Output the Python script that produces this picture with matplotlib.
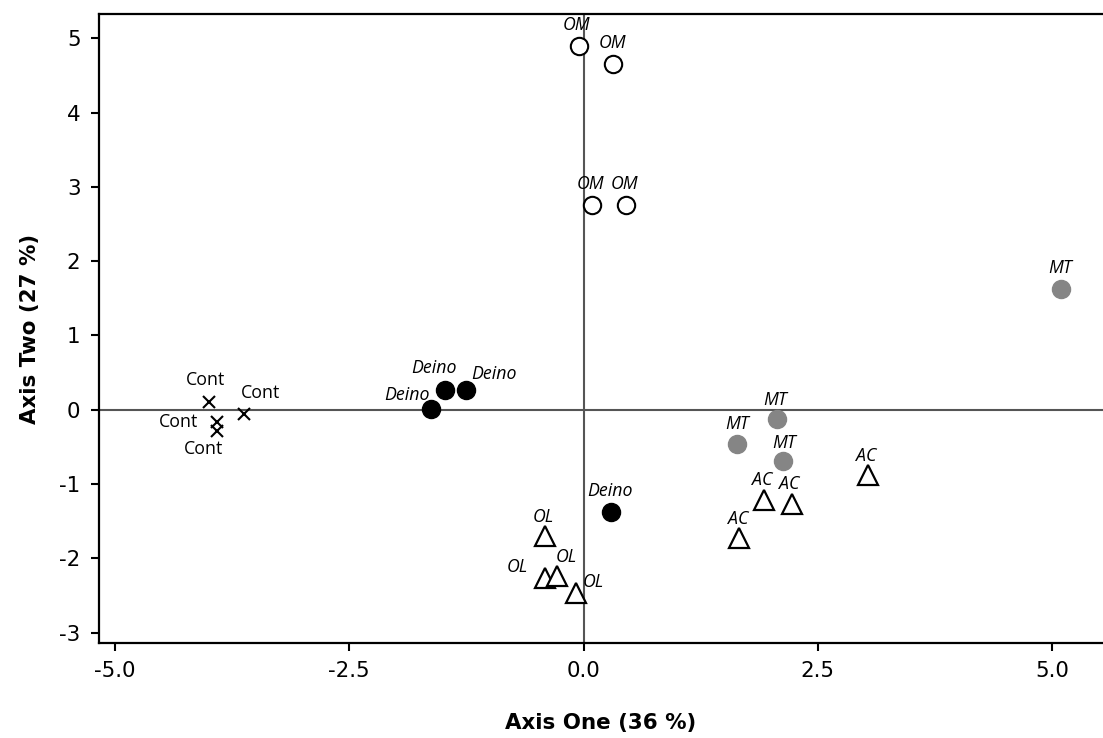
import matplotlib
matplotlib.use("Agg")
import matplotlib.pyplot as plt

plt.rcParams['font.family'] = ['DejaVu Sans']
plt.rcParams['axes.unicode_minus'] = False

# ---- data ----
cont_x = [-4.00, -3.91, -3.91, -3.62]
cont_y = [0.11, -0.17, -0.29, -0.06]
deino_x = [-1.63, -1.48, -1.25, 0.29]
deino_y = [0.01, 0.27, 0.27, -1.37]
om_x = [-0.05, 0.31, 0.09, 0.45]
om_y = [4.90, 4.65, 2.75, 2.75]
mt_x = [2.07, 1.64, 2.13, 5.10]
mt_y = [-0.13, -0.46, -0.69, 1.63]
ol_x = [-0.41, -0.41, -0.28, -0.08]
ol_y = [-1.70, -2.27, -2.24, -2.47]
ac_x = [1.93, 2.22, 1.66, 3.04]
ac_y = [-1.22, -1.27, -1.72, -0.88]

x_ticks = [-5.0, -2.5, 0.0, 2.5, 5.0]
x_ticklabels = ['-5.0', '-2.5', '0.0', '2.5', '5.0']
y_ticks = [-3, -2, -1, 0, 1, 2, 3, 4, 5]

# label offsets in pixels (dx, dy)
cont_off = [(-3, 22), (-39, 0), (-14, -18), (16, 21)]
deino_off = [(-24, 14), (-11, 22), (28, 16), (-1, 21)]
om_off = [(-2, 21), (0, 21), (-1, 21), (-1, 21)]
mt_off = [(-2, 19), (0, 20), (1, 18), (-1, 21)]
ol_off = [(-2, 19), (-28, 11), (9, 19), (17, 11)]
ac_off = [(-2, 20), (-2, 20), (-1, 19), (-2, 19)]

fig = plt.figure(figsize=(11.03, 7.38), dpi=100)
ax = fig.add_axes([98.5 / 1103, 1 - 643.3 / 738, 1 - 98.5 / 1103, (643.3 - 14) / 738])

x0, xpx = 583.5, 93.7
y0, ypx = 409.8, 74.3
ax.set_xlim((98.5 - x0) / xpx, (1103 - x0) / xpx)
ax.set_ylim(-(643.3 - y0) / ypx, (y0 - 14) / ypx)

ax.axhline(0, color='#555555', lw=1.5, zorder=1)
ax.axvline(0, color='#555555', lw=1.5, zorder=1)

ax.plot(cont_x, cont_y, 'x', color='black', ms=9, mew=1.5, ls='none', zorder=3)
ax.plot(deino_x, deino_y, 'o', color='black', ms=13, ls='none', zorder=3)
ax.plot(om_x, om_y, 'o', mfc='white', mec='black', ms=12.5, mew=1.5, ls='none', zorder=3)
ax.plot(mt_x, mt_y, 'o', color='#858585', ms=13, ls='none', zorder=3)
ax.plot(ol_x, ol_y, '^', mfc='white', mec='black', ms=14.5, mew=1.6, ls='none', zorder=3)
ax.plot(ac_x, ac_y, '^', mfc='white', mec='black', ms=14.5, mew=1.6, ls='none', zorder=3)

def label(xs, ys, offs, text, italic=True):
    for x, y, (dx, dy) in zip(xs, ys, offs):
        ax.annotate(text, (x, y), xytext=(dx, dy), textcoords='offset pixels',
                    ha='center', va='center', fontsize=12.8,
                    family=['Open Sans', 'DejaVu Sans'],
                    style='italic' if italic else 'normal', zorder=4)

label(cont_x, cont_y, cont_off, 'Cont', italic=False)
label(deino_x, deino_y, deino_off, 'Deino')
label(om_x, om_y, om_off, 'OM')
label(mt_x, mt_y, mt_off, 'MT')
label(ol_x, ol_y, ol_off, 'OL')
label(ac_x, ac_y, ac_off, 'AC')

ax.set_xticks(x_ticks)
ax.set_xticklabels(x_ticklabels)
ax.set_yticks(y_ticks)
ax.tick_params(direction='out', length=5.5, width=1.5, labelsize=15.4, pad=7.5)

for s in ['left', 'bottom', 'top']:
    ax.spines[s].set_linewidth(1.6)
ax.spines['right'].set_visible(False)

ax.set_xlabel('Axis One (36 %)', fontsize=15.4, fontweight='bold', labelpad=23)
ax.set_ylabel('Axis Two (27 %)', fontsize=15.4, fontweight='bold', labelpad=14)

fig.savefig('out.png', dpi=100)
